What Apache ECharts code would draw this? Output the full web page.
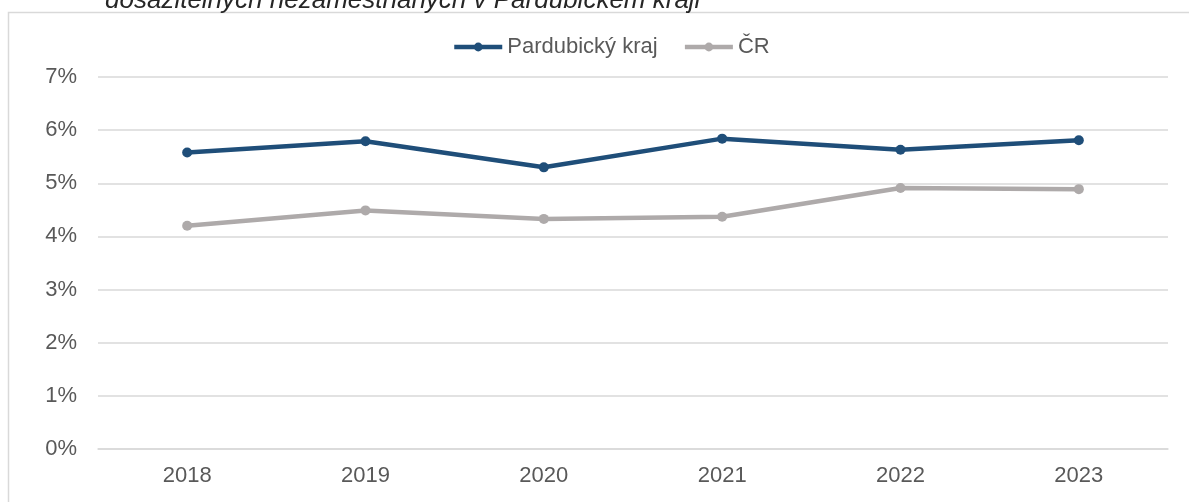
<!DOCTYPE html>
<html>
<head>
<meta charset="utf-8">
<script src="https://cdn.jsdelivr.net/npm/echarts@6/dist/echarts.min.js"></script>
<style>
  html, body { margin: 0; padding: 0; background: #fff; }
  #main { width: 1189px; height: 502px; }
</style>
</head>
<body>
<div id="main"></div>
<script>
// data
var years = ['2018', '2019', '2020', '2021', '2022', '2023'];
var pardubice = [5.58, 5.79, 5.30, 5.84, 5.63, 5.81];
var cr = [4.20, 4.49, 4.33, 4.37, 4.91, 4.89];
var seriesNames = ['Pardubický kraj', 'ČR'];
var titleText = 'dosažitelných nezaměstnaných v Pardubickém kraji';

var font = 'Liberation Sans, Arial, sans-serif';
var chart = echarts.init(document.getElementById('main'));

chart.setOption({
  animation: false,
  graphic: [
    {
      // chart area border
      type: 'rect',
      shape: { x: 8.5, y: 12.5, width: 1200, height: 520 },
      style: { fill: 'none', stroke: '#D9D9D9', lineWidth: 1.5 },
      silent: true
    },
    {
      // title, cut off at the top
      type: 'text',
      x: 105,
      y: 14,
      style: {
        text: titleText,
        font: 'italic 26px ' + font,
        fill: '#262626',
        verticalAlign: 'bottom'
      },
      silent: true
    }
  ],
  legend: {
    left: 447,
    top: 31,
    itemWidth: 48,
    itemHeight: 11,
    itemGap: 25,
    lineStyle: { width: 4.5 },
    textStyle: { fontFamily: font, fontSize: 22, color: '#595959' },
    data: seriesNames
  },
  grid: { left: 98, right: 21, top: 77, bottom: 53 },
  xAxis: {
    type: 'category',
    data: years,
    axisTick: { show: false },
    axisLine: { lineStyle: { color: '#D9D9D9', width: 1.5 } },
    axisLabel: { margin: 16, fontFamily: font, fontSize: 22, color: '#595959' }
  },
  yAxis: {
    type: 'value',
    min: 0,
    max: 7,
    interval: 1,
    axisLine: { show: false },
    axisTick: { show: false },
    splitLine: { lineStyle: { color: '#D9D9D9', width: 1.5 } },
    axisLabel: {
      margin: 21,
      formatter: '{value}%',
      fontFamily: font,
      fontSize: 22,
      color: '#595959'
    }
  },
  series: [
    {
      name: seriesNames[0],
      type: 'line',
      data: pardubice,
      symbol: 'circle',
      symbolSize: 10,
      itemStyle: { color: '#1F4E79' },
      lineStyle: { color: '#1F4E79', width: 4.5 }
    },
    {
      name: seriesNames[1],
      type: 'line',
      data: cr,
      symbol: 'circle',
      symbolSize: 10,
      itemStyle: { color: '#AEAAAA' },
      lineStyle: { color: '#AEAAAA', width: 4.5 }
    }
  ]
});
</script>
</body>
</html>
